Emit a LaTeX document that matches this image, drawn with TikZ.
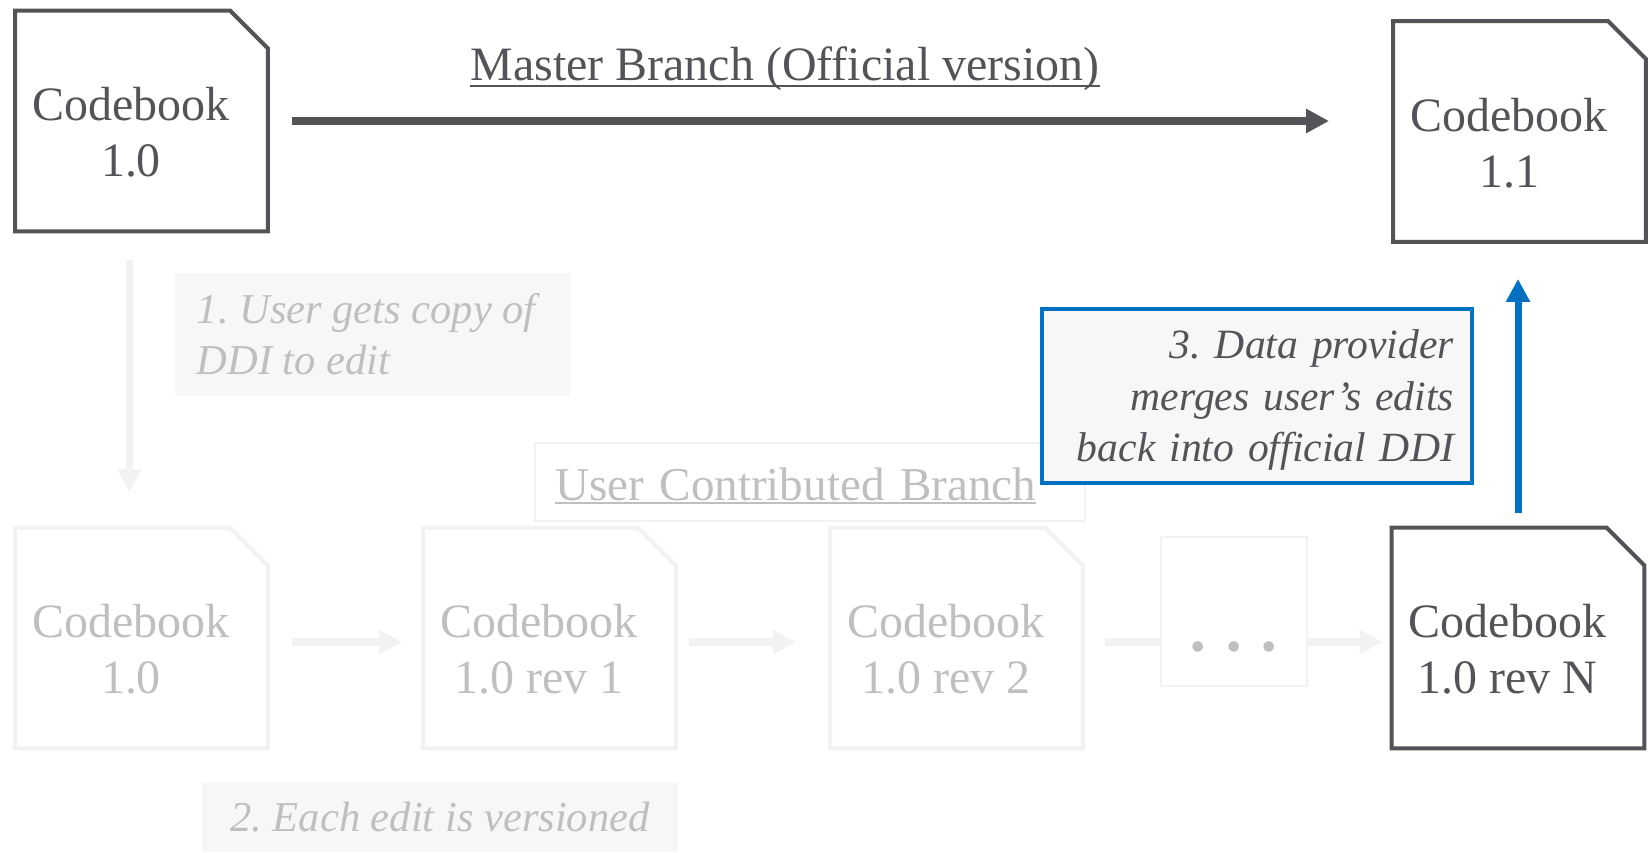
\documentclass[tikz,border=0pt]{standalone}
\usepackage{fontspec}
\setmainfont{Liberation Serif}
\usetikzlibrary{arrows.meta}

\definecolor{inkgray}{HTML}{525458}
\definecolor{fadeline}{HTML}{F2F2F2}
\definecolor{fadetext}{HTML}{BFBFBF}
\definecolor{notefill}{HTML}{F7F7F7}
\definecolor{mergeblue}{HTML}{0070C0}

\frenchspacing
% underline: depth, thickness, text
\newsavebox{\ulbox}
\newcommand{\ulined}[3]{\sbox{\ulbox}{#3}\rlap{\rule[-#1]{\wd\ulbox}{#2}}\usebox{\ulbox}}

\tikzset{
    codebook/.style={minimum width=5.06cm, minimum height=4.42cm, outer sep=0pt, inner sep=0pt},
    cbtext/.style={text=#1, align=center, font=\fontsize{27.3}{32}\selectfont,
        xshift=-0.21cm, yshift=-0.23cm},
    note/.style={fill=notefill, font=\fontsize{24.2}{29.3}\selectfont\itshape},
    flow/.style={line width=0.15cm, -{Triangle[length=0.46cm,width=0.46cm]}},
}

\begin{document}
\begin{tikzpicture}[x=0.02cm, y=-0.02cm]
\useasboundingbox (0,0) rectangle (1649,852);

% master branch
\node[codebook, label={[cbtext=inkgray]center:Codebook\\1.0}] (mainA) at (141.5,121) {};
\node[codebook, label={[cbtext=inkgray]center:Codebook\\1.1}] (mainB) at (1519.5,131.5) {};
\node[anchor=base, text=inkgray, font=\fontsize{27.3}{32}\selectfont] (masterLbl) at (785,80)
    {\ulined{0.14cm}{1.1pt}{Master Branch (Official version)}};
\draw[flow, draw=inkgray, line width=0.16cm, shorten <=0.48cm, shorten >=1.28cm]
    (mainA.east) -- (mainA.east -| mainB.west);

% user contributed branch
\node[codebook, label={[cbtext=fadetext]center:Codebook\\1.0}] (userA) at (141.5,638) {};
\node[codebook, label={[cbtext=fadetext]center:Codebook\\1.0 rev 1}] (userB) at (549.5,638) {};
\node[codebook, label={[cbtext=fadetext]center:Codebook\\1.0 rev 2}] (userC) at (956.5,638) {};
\node[draw=fadeline, line width=0.03cm, minimum width=2.92cm, minimum height=2.98cm,
    label={[text=fadetext, font=\fontsize{25}{25}\selectfont, yshift=-0.8cm]center:%
    \makebox[0.71cm]{\textbullet}\makebox[0.71cm]{\textbullet}\makebox[0.71cm]{\textbullet}}] (dots) at (1234,611.5) {};
\node[codebook, label={[cbtext=inkgray]center:Codebook\\1.0 rev N}] (userN) at (1518,638) {};

% document outlines with the folded corner
\foreach \doc/\col in {mainA/inkgray, mainB/inkgray, userA/fadeline, userB/fadeline, userC/fadeline, userN/inkgray}
    \draw[draw=\col, line width=0.08cm] (\doc.south west) -- (\doc.north west)
        -- ([xshift=-0.76cm]\doc.north east) -- ([yshift=-0.76cm]\doc.north east)
        -- (\doc.south east) -- cycle;

\draw[flow, draw=fadeline, shorten <=0.48cm, shorten >=0.42cm]
    ([yshift=-0.08cm]userA.east) -- ([yshift=-0.08cm]userB.west);
\draw[flow, draw=fadeline, shorten <=0.26cm, shorten >=0.68cm]
    ([yshift=-0.08cm]userB.east) -- ([yshift=-0.08cm]userC.west);
\draw[line width=0.15cm, draw=fadeline, shorten <=0.44cm]
    ([yshift=-0.08cm]userC.east) -- ([yshift=-0.08cm]userC.east -| dots.west);
\draw[flow, draw=fadeline, shorten >=0.18cm]
    ([yshift=-0.08cm]userN.west -| dots.east) -- ([yshift=-0.08cm]userN.west);

\node[draw=fadeline, line width=0.03cm, text=fadetext, font=\fontsize{26.8}{32}\selectfont,
    text width=10.2cm, align=left, inner xsep=0.4cm, minimum height=1.56cm,
    text height=0.9cm, text depth=0.18cm] (userLbl) at (810,482)
    {\ulined{0.08cm}{1.1pt}{User Contributed Branch}};

% the three steps
\draw[flow, draw=fadeline, shorten <=0.58cm, shorten >=0.71cm]
    ([xshift=-0.24cm]mainA.south) -- ([xshift=-0.24cm]userA.north);
\node[note, text=fadetext, align=left, minimum width=7.9cm, minimum height=2.48cm]
    (copyLbl) at (372.5,334.5) {1. User gets copy of\rule{0.25cm}{0pt}\\DDI to edit};
\node[note, text=fadetext, minimum width=9.52cm, minimum height=1.4cm] (editLbl) at (440,817)
    {2. Each edit is versioned};
\node[note, font=\fontsize{23.7}{29.3}\selectfont\itshape, draw=mergeblue, line width=0.08cm,
    text=inkgray, text width=7.88cm, align=right, inner xsep=0.36cm, minimum height=3.48cm]
    (mergeLbl) at (1257,396)
    {\rule{0pt}{0.74cm}3. Data provider\\merges user's edits\\back into official DDI};
\draw[flow, draw=mergeblue, line width=0.14cm, shorten <=0.30cm, shorten >=0.74cm]
    (userN.north) -- (userN.north |- mainB.south);
\end{tikzpicture}
\end{document}
